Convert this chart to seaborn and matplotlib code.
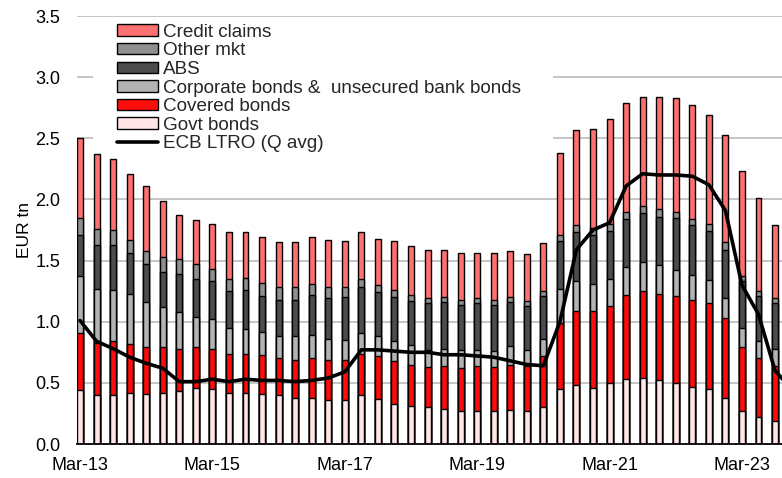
import numpy as np
import pandas as pd
import matplotlib.pyplot as plt
import seaborn as sns
from matplotlib.patches import Patch, Rectangle
from matplotlib.lines import Line2D

# quarterly collateral use, EUR tn
quarters = pd.date_range('2013-03-01', periods=43, freq='3MS').strftime('%b-%y').tolist()

govt = [0.44, 0.40, 0.40, 0.42, 0.41, 0.42, 0.43, 0.46, 0.45, 0.42, 0.42, 0.41, 0.40, 0.38, 0.38,
        0.36, 0.36, 0.40, 0.37, 0.33, 0.31, 0.30, 0.29, 0.27, 0.27, 0.27, 0.28, 0.27, 0.30, 0.45,
        0.48, 0.46, 0.50, 0.53, 0.54, 0.52, 0.50, 0.47, 0.45, 0.38, 0.27, 0.22, 0.19]
covered = [0.47, 0.43, 0.44, 0.40, 0.38, 0.37, 0.35, 0.33, 0.33, 0.32, 0.32, 0.32, 0.30, 0.31, 0.32,
           0.33, 0.33, 0.34, 0.35, 0.35, 0.34, 0.33, 0.35, 0.35, 0.37, 0.36, 0.37, 0.37, 0.42, 0.54,
           0.61, 0.63, 0.63, 0.69, 0.71, 0.71, 0.71, 0.71, 0.70, 0.65, 0.52, 0.48, 0.45]
corporate = [0.46, 0.44, 0.42, 0.41, 0.37, 0.33, 0.30, 0.25, 0.24, 0.21, 0.20, 0.19, 0.18, 0.19, 0.19,
             0.17, 0.16, 0.17, 0.16, 0.16, 0.16, 0.14, 0.14, 0.15, 0.13, 0.13, 0.15, 0.13, 0.14, 0.28,
             0.24, 0.22, 0.22, 0.23, 0.24, 0.23, 0.21, 0.20, 0.19, 0.16, 0.16, 0.14, 0.14]
abs_ = [0.34, 0.36, 0.37, 0.33, 0.31, 0.29, 0.31, 0.31, 0.31, 0.30, 0.32, 0.29, 0.30, 0.30, 0.33,
        0.33, 0.35, 0.37, 0.36, 0.36, 0.36, 0.38, 0.38, 0.37, 0.38, 0.38, 0.36, 0.36, 0.35, 0.39,
        0.40, 0.40, 0.39, 0.39, 0.40, 0.40, 0.43, 0.41, 0.40, 0.40, 0.38, 0.37, 0.37]
other = [0.14, 0.13, 0.12, 0.11, 0.11, 0.12, 0.12, 0.12, 0.10, 0.10, 0.10, 0.11, 0.10, 0.10, 0.09,
         0.09, 0.08, 0.07, 0.06, 0.06, 0.05, 0.04, 0.04, 0.04, 0.04, 0.04, 0.04, 0.04, 0.04, 0.05,
         0.06, 0.06, 0.06, 0.06, 0.06, 0.06, 0.05, 0.05, 0.06, 0.06, 0.04, 0.04, 0.04]
credit = [0.65, 0.61, 0.58, 0.54, 0.53, 0.46, 0.36, 0.36, 0.37, 0.38, 0.37, 0.37, 0.37, 0.37, 0.38,
          0.39, 0.38, 0.38, 0.38, 0.40, 0.40, 0.40, 0.39, 0.38, 0.37, 0.38, 0.38, 0.38, 0.39, 0.67,
          0.78, 0.81, 0.86, 0.89, 0.89, 0.92, 0.93, 0.93, 0.89, 0.88, 0.86, 0.76, 0.60]
# one more quarter than the bars, runs off the right edge
ltro = [1.01, 0.84, 0.78, 0.71, 0.66, 0.62, 0.51, 0.51, 0.53, 0.51, 0.53, 0.52, 0.52, 0.51, 0.52,
        0.54, 0.59, 0.77, 0.77, 0.76, 0.75, 0.75, 0.73, 0.73, 0.72, 0.71, 0.68, 0.65, 0.64, 1.00,
        1.59, 1.75, 1.81, 2.11, 2.21, 2.20, 2.20, 2.19, 2.12, 1.91, 1.30, 1.06, 0.60, 0.45]

series = [('Govt bonds', govt, '#FFE5E5'),
          ('Covered bonds', covered, '#FF0D0D'),
          ('Corporate bonds &  unsecured bank bonds', corporate, '#B3B3B3'),
          ('ABS', abs_, '#4D4D4D'),
          ('Other mkt', other, '#8F8F8F'),
          ('Credit claims', credit, '#FF7171')]

sns.set_theme(style='white')
plt.rcParams['font.family'] = ['Liberation Sans', 'DejaVu Sans']

fig = plt.figure(figsize=(7.82, 4.78), dpi=100)
ax = fig.add_axes([0.0985, 0.0711, 0.9015, 0.8954])

for y in np.arange(0.5, 3.6, 0.5):
    ax.axhline(y, color='#C0C0C0', lw=1.3, zorder=0.5)

# white box behind the legend hides the grid there
ax.add_patch(Rectangle((0.023, 0.70), 0.652, 0.297, transform=ax.transAxes,
                       facecolor='white', edgecolor='none', zorder=1))

# stacked bars drawn as overlapping cumulative totals, tallest first
tops = np.cumsum([np.array(s[1]) for s in series], axis=0)
for (name, vals, col), top in reversed(list(zip(series, tops))):
    sns.barplot(x=quarters, y=top, color=col, saturation=1, width=0.36,
                edgecolor='black', linewidth=1.0, errorbar=None, ax=ax, zorder=2)

sns.lineplot(x=np.arange(len(ltro)), y=ltro, color='black', lw=2.6, ax=ax, zorder=3)

ax.set_xlim(-0.18, 42.42)
ax.set_ylim(0, 3.5)
ax.set_yticks(np.arange(0, 3.6, 0.5))
ax.set_yticklabels([f'{v:.1f}' for v in np.arange(0, 3.6, 0.5)])
ax.set_xticks(range(0, len(quarters), 8))
ax.set_xticklabels(quarters[::8])
ax.tick_params(axis='both', length=0, labelsize=13, colors='black')
ax.tick_params(axis='y', pad=12)
ax.tick_params(axis='x', pad=9)
ax.set_ylabel('EUR tn', fontsize=12.5, color='black', labelpad=2)
ax.set_xlabel('')
ax.grid(False)
for side in ['top', 'right', 'left']:
    ax.spines[side].set_visible(False)
ax.spines['bottom'].set_color('black')
ax.spines['bottom'].set_linewidth(1.3)

handles = [Patch(facecolor=col, edgecolor='black', linewidth=1.0, label=name)
           for name, vals, col in reversed(series)]
handles.append(Line2D([], [], color='black', lw=2.6, label='ECB LTRO (Q avg)'))
ax.legend(handles=handles, loc='upper left', bbox_to_anchor=(0.057, 0.982),
          frameon=False, fontsize=13.6, borderpad=0, borderaxespad=0,
          labelspacing=0.085, handlelength=2.17, handleheight=0.55, handletextpad=0.27)

fig.savefig('out.png', dpi=100)
